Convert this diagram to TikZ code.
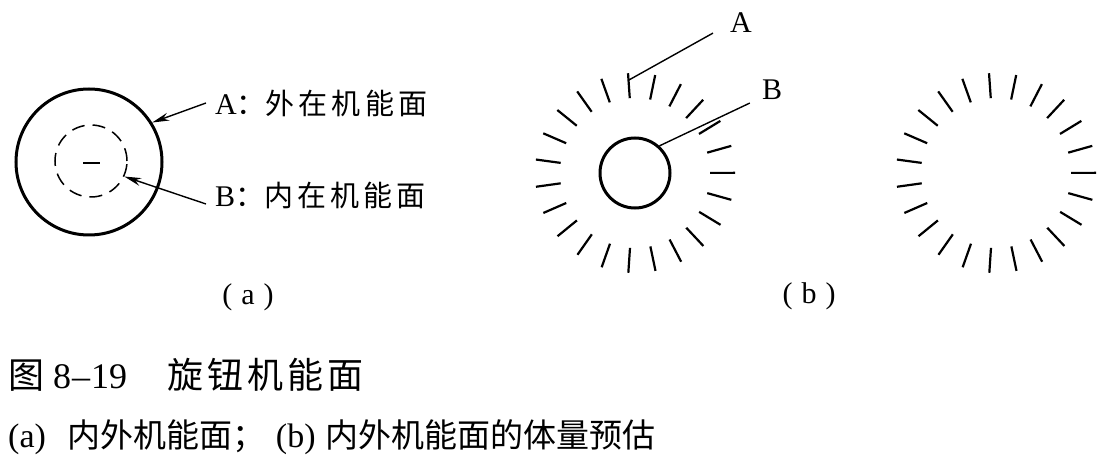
\documentclass[tikz,border=0pt]{standalone}
\usepackage{fontspec}
\setmainfont{Liberation Serif}
\newfontfamily\cjk{Noto Sans CJK SC}
\newfontfamily\cjkA{Noto Sans CJK SC}[LetterSpace=14]
\newfontfamily\cjkC{Noto Sans CJK SC}[LetterSpace=11]
\usetikzlibrary{arrows.meta,calc}
\begin{document}
\begin{tikzpicture}[x=1pt,y=-1pt,
  ringtick/.style={line width=2.2pt},
  lead/.style={line width=1.4pt},
  boldring/.style={circle, draw, line width=3pt, inner sep=0pt},
  lbl/.style={inner sep=0pt, font=\fontsize{30}{32}\selectfont},
  arr/.style={lead, -{Stealth[length=17pt,width=8pt]}}]
\useasboundingbox (0,0) rectangle (1108,462);
\fill[white] (0,0) rectangle (1108,462);

% ---------- (a)
\node[boldring, minimum size=146pt] (outer) at (89,162) {};
\node[circle, draw, line width=1.5pt, dash pattern=on 13pt off 8pt, minimum size=72pt, inner sep=0pt] (inner) at (91,161) {};
\draw[line width=1.5pt] (83,163) -- (100,163);
\node[lbl, anchor=west] (labA) at (215,103) {A{\fontsize{29}{32}\selectfont\cjk ：}{\fontsize{29}{32}\selectfont\cjkA 外在机能面}};
\node[lbl, anchor=west] (labB) at (215,195) {B{\fontsize{29}{32}\selectfont\cjk ：}{\fontsize{29}{32}\selectfont\cjkA 内在机能面}};
\draw[arr] ([xshift=-9pt]labA.west) -- (outer.32);
\draw[arr] ([xshift=-9pt,yshift=-9pt]labB.west) -- (inner.-25);
\node[lbl] (capa) at (248,297) {(\kern9pt a\kern9pt)};

% ---------- (b) left ring with knob
\coordinate (cb) at (635,173);
\node[boldring, minimum size=70pt] (knob) at (cb) {};
\foreach \i in {0,...,22}
  \draw[ringtick] ($(cb)+(\i*360/23-94:75)$) -- ($(cb)+(\i*360/23-94:100)$);
\node[lbl] (lA) at (741,23) {A};
\node[lbl] (lB) at (772,90) {B};
\draw[lead] ($(cb)+(-94:93)$) -- ([xshift=-17pt]lA.south west);
\draw[lead] (knob.48) -- ([xshift=-12pt,yshift=-3pt]lB.south west);
\node[lbl] (capb) at (809,296) {(\kern9pt b\kern9pt)};

% ---------- (b) right ring
\coordinate (cr) at (996,173);
\foreach \i in {0,...,22}
  \draw[ringtick] ($(cr)+(\i*360/23-94:75)$) -- ($(cr)+(\i*360/23-94:100)$);

% ---------- caption
\node[anchor=base west, inner sep=0pt] (cap1) at (8,388)
  {\fontsize{36}{38}\selectfont{\cjk 图}\hspace{9pt}8\kern1pt–\kern1pt19\hspace{40pt}{\cjkC 旋钮机能面}};
\node[anchor=base west, inner sep=0pt] (cap2) at (8,447)
  {\fontsize{34}{36}\selectfont (a)\hspace{22pt}{\fontsize{33}{36}\selectfont\cjk 内外机能面；}\hspace{10pt}(b)\hspace{10pt}{\fontsize{33}{36}\selectfont\cjk 内外机能面的体量预估}};
\end{tikzpicture}
\end{document}
